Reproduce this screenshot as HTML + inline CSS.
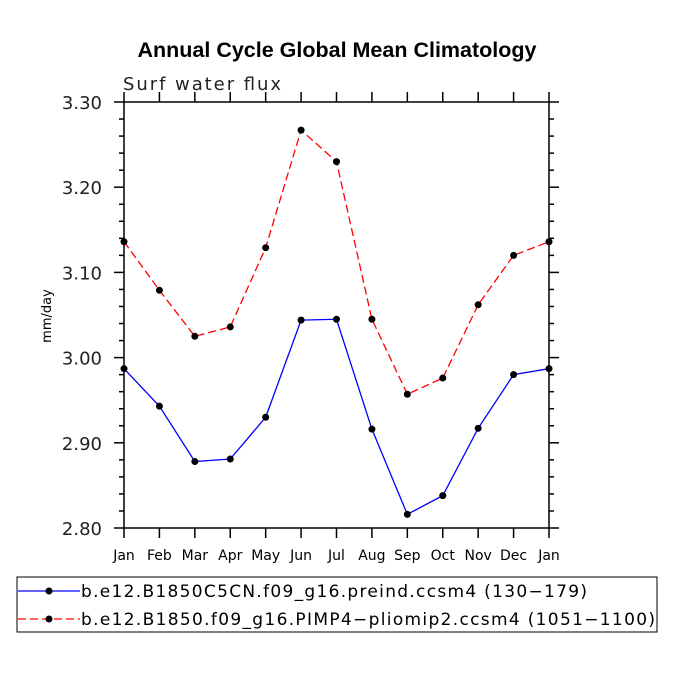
<!DOCTYPE html>
<html><head><meta charset="utf-8"><style>
body{margin:0;background:#fff}
svg text{font-family:"DejaVu Sans","Liberation Sans",sans-serif}
</style></head><body>
<svg width="675" height="675" viewBox="0 0 675 675" xmlns="http://www.w3.org/2000/svg">
<rect width="675" height="675" fill="#fff"/>
<text x="337" y="57" text-anchor="middle" style="font-family:'Liberation Sans',sans-serif" font-weight="bold" font-size="21.5">Annual Cycle Global Mean Climatology</text>
<text x="123" y="90" font-size="18" fill="#222" textLength="158" lengthAdjust="spacing">Surf water flux</text>
<text transform="translate(51,316) rotate(-90)" text-anchor="middle" font-size="13">mm/day</text>
<g id="axes"></g>
<g id="series"></g>
<rect x="17" y="577" width="640" height="55" fill="none" stroke="#000" stroke-width="1"/>
<g>
<line x1="18" y1="591" x2="80" y2="591" stroke="#00f" stroke-width="1.3"/><circle cx="49" cy="591" r="3.5" fill="#000"/>
<text x="81" y="597" font-size="17" textLength="506" lengthAdjust="spacing">b.e12.B1850C5CN.f09_g16.preind.ccsm4 (130−179)</text></g>
<g>
<line x1="18" y1="619" x2="80" y2="619" stroke="#f00" stroke-width="1.3" stroke-dasharray="8,4"/><circle cx="49" cy="619" r="3.5" fill="#000"/>
<text x="81" y="625" font-size="17" textLength="574" lengthAdjust="spacing">b.e12.B1850.f09_g16.PIMP4−pliomip2.ccsm4 (1051−1100)</text></g>
</svg>
<script>
const months=["Jan","Feb","Mar","Apr","May","Jun","Jul","Aug","Sep","Oct","Nov","Dec","Jan"];
const preind=[2.987,2.943,2.878,2.881,2.930,3.044,3.045,2.916,2.816,2.838,2.917,2.980,2.987];
const pliomip=[3.136,3.079,3.025,3.036,3.129,3.267,3.230,3.045,2.957,2.976,3.062,3.120,3.136];
const yTicks=["2.80","2.90","3.00","3.10","3.20","3.30"];
const L=124,R=549,T=102,B=528,ymin=2.8,ymax=3.3;
const NS="http://www.w3.org/2000/svg";
const xs=i=>L+(R-L)*i/(months.length-1);
const ys=v=>B-(v-ymin)/(ymax-ymin)*(B-T);
function mk(t,a,p){const e=document.createElementNS(NS,t);for(const k in a)e.setAttribute(k,a[k]);p.appendChild(e);return e;}
const ax=document.getElementById('axes');
const frame=mk('rect',{x:L,y:T,width:R-L,height:B-T,fill:'none',stroke:'#000','stroke-width':1.5},ax);


months.forEach((m,i)=>{const x=xs(i);
mk('line',{x1:x,y1:B,x2:x,y2:B+10,stroke:'#000','stroke-width':1.5},ax);
mk('line',{x1:x,y1:T,x2:x,y2:T-10,stroke:'#000','stroke-width':1.5},ax);
const t=mk('text',{x:x,y:560,'text-anchor':'middle','font-size':14},ax);t.textContent=m;

});
for(let k=0;k<=25;k++){const v=ymin+k*0.02,y=ys(v),maj=k%5==0,len=maj?10:5;
mk('line',{x1:L-len,y1:y,x2:L,y2:y,stroke:'#000','stroke-width':1.5},ax);
mk('line',{x1:R,y1:y,x2:R+len,y2:y,stroke:'#000','stroke-width':1.5},ax);}
yTicks.forEach(s=>{const y=ys(parseFloat(s));const t=mk('text',{x:102,y:y+7,'text-anchor':'end','font-size':18,fill:'#222'},ax);t.textContent=s;

});
const sg=document.getElementById('series');
function draw(d,col,dash,name){const g=mk('g',{},sg);


mk('polyline',{points:d.map((v,i)=>xs(i)+','+ys(v)).join(' '),fill:'none',stroke:col,'stroke-width':1.3,'stroke-dasharray':dash},g);
d.forEach((v,i)=>{const c=mk('circle',{cx:xs(i),cy:ys(v),r:3.5,fill:'#000'},g);

});}
draw(preind,'#00f','none','series-preind');
draw(pliomip,'#f00','8,4','series-pliomip');
</script>
</body></html>
